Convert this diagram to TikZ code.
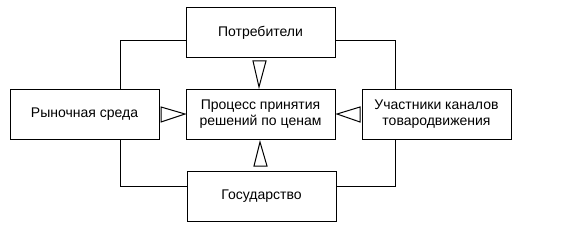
\documentclass[tikz,border=0pt]{standalone}
\usepackage{fontspec}
\setmainfont{Liberation Sans}
\begin{document}
\begin{tikzpicture}[x=1pt,y=-1pt,
  box/.style={draw,line width=1pt,minimum width=149pt,minimum height=50pt,inner sep=0pt,align=center,font=\fontsize{14}{16}\selectfont},
  conn/.style={line width=1pt},
  tri/.style={draw,line width=1pt,fill=white}]
\useasboundingbox[fill=white] (0,0) rectangle (570,230);
\node[box] (top) at (260.5,33) {Потребители};
\node[box] (mid) at (260.5,114) {Процесс принятия\\решений по ценам};
\node[box] (left) at (84.5,114) {Рыночная среда};
\node[box] (right) at (436.5,114) {Участники каналов\\товародвижения};
\node[box] (bot) at (261.5,196) {Государство};
\coordinate (tl) at (120,41);
\coordinate (tr) at (395,41);
\coordinate (bl) at (120,186);
\coordinate (br) at (395,186);
\draw[conn] (top.west |- tl) -- (tl) -- (tl |- left.north);
\draw[conn] (top.east |- tr) -- (tr) -- (tr |- right.north);
\draw[conn] (tl |- left.south) -- (bl) -- (bot.west |- bl);
\draw[conn] (tr |- right.south) -- (br) -- (bot.east |- br);
% open triangular arrowheads
\draw[tri] (253,61) -- (266,61) -- (259,87) -- cycle;
\draw[tri] (254,166) -- (267,166) -- (260,142) -- cycle;
\draw[tri] (161,107) -- (161,122) -- (185,114) -- cycle;
\draw[tri] (360,107) -- (360,122) -- (337,114) -- cycle;
\end{tikzpicture}
\end{document}
